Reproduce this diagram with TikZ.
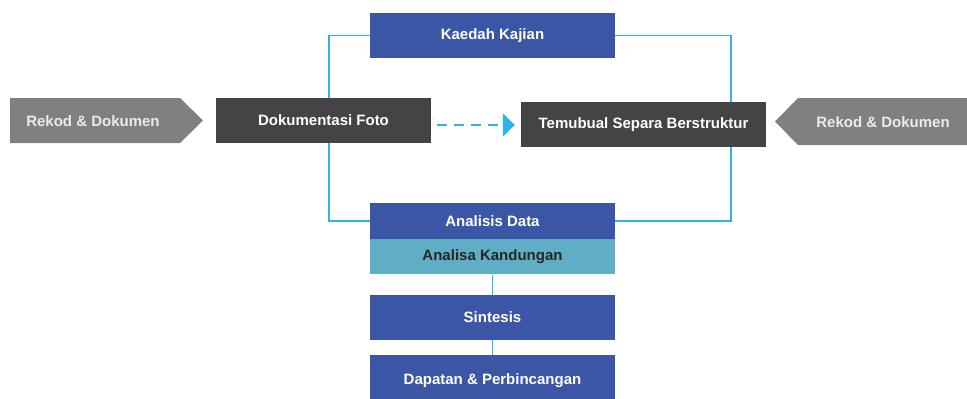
\documentclass[tikz,border=0pt]{standalone}
\usepackage{fontspec}
\setmainfont{Liberation Sans}
\usetikzlibrary{arrows.meta}
\definecolor{boxblue}{HTML}{3C56A6}
\definecolor{boxdark}{HTML}{444444}
\definecolor{arrowgrey}{HTML}{808080}
\definecolor{linecyan}{HTML}{2DB3E8}
\definecolor{boxteal}{HTML}{60ADC6}
\tikzset{
  box/.style={rectangle, inner sep=0pt, font=\fontsize{15}{18}\selectfont\bfseries, text=white},
  bluebox/.style={box, fill=boxblue, minimum width=245pt},
  darkbox/.style={box, fill=boxdark},
  tealbox/.style={box, fill=boxteal, minimum width=245pt, text=black!85},
  link/.style={draw=linecyan, line width=1.5pt},
  greytext/.style={font=\fontsize{15}{18}\selectfont\bfseries, text=white!92!black, inner sep=0pt},
}
\begin{document}
\begin{tikzpicture}[x=1pt,y=-1pt]
\useasboundingbox (0,0) rectangle (967,399);
% arrow shapes
\fill[arrowgrey] (10,98) -- (180,98) -- (203,120.5) -- (180,143) -- (10,143) -- cycle;
\node[greytext] (rekodL) at (93,121) {Rekod \& Dokumen};
\fill[arrowgrey] (975,98) -- (798,98) -- (775,121.5) -- (798,145) -- (975,145) -- cycle;
\node[greytext] (rekodR) at (883,122) {Rekod \& Dokumen};
% boxes
\node[bluebox, minimum height=45pt] (kaedah) at (492.5,35.5) {Kaedah Kajian};
\coordinate (lc) at (329,35.5);
\coordinate (rc) at (731,35.5);
\node[bluebox, minimum height=36pt] (analisis) at (492.5,221) {Analisis Data};
\node[tealbox, minimum height=35pt, anchor=north] (kandungan) at (analisis.south) {Analisa Kandungan};
\node[bluebox, minimum height=45pt] (sintesis) at (492.5,317.5) {Sintesis};
\node[bluebox, minimum height=44pt, text height=15pt, text depth=0pt] (dapatan) at (492.5,377) {Dapatan \& Perbincangan};
% connectors (behind dark boxes)
\draw[link] (kaedah.west) -- (lc) -- (lc |- analisis.west) -- (analisis.west);
\draw[link] (kaedah.east) -- (rc) -- (rc |- analisis.east) -- (analisis.east);
\draw[link] (kandungan.south) -- (sintesis.north);
\draw[link] (sintesis.south) -- (dapatan.north);
\node[darkbox, minimum width=215pt, minimum height=45pt] (foto) at (323.5,120.5) {Dokumentasi Foto};
\node[darkbox, minimum width=245pt, minimum height=45pt] (temubual) at (643.5,124.5) {Temubual Separa Berstruktur};
\draw[linecyan, line width=2pt, dash pattern=on 10pt off 7pt, -{Triangle[length=12pt,width=23pt]}, shorten <=6pt, shorten >=6pt] (foto.east |- 0,125) -- (temubual.west |- 0,125);
\end{tikzpicture}
\end{document}
